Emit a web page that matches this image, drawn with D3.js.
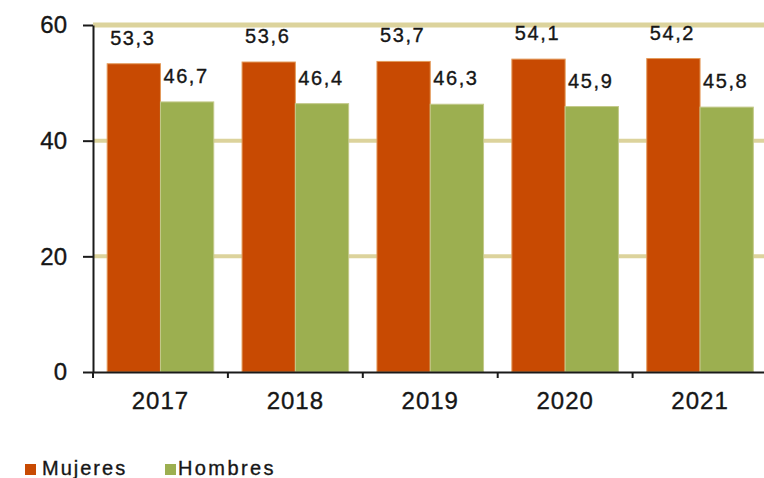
<!DOCTYPE html>
<html>
<head>
<meta charset="utf-8">
<script src="https://cdn.jsdelivr.net/npm/d3@7"></script>
<style>
  html, body { margin: 0; padding: 0; background: #fff; }
  svg { display: block; }
  text { font-family: Arial, "Liberation Sans", sans-serif; fill: #161616; stroke: #161616; stroke-width: 0.35px; }
</style>
</head>
<body>
<svg id="chart" width="764" height="478"></svg>
<script>
const years = ["2017", "2018", "2019", "2020", "2021"];
const seriesNames = ["Mujeres", "Hombres"];
const mujeres = [53.3, 53.6, 53.7, 54.1, 54.2];
const hombres = [46.7, 46.4, 46.3, 45.9, 45.8];
const yTicks = [0, 20, 40, 60];
const colors = ["#c84a02", "#9caf50"];

(function () {
const svg = d3.select("#chart");
const mLeft = 93, mRight = 767.5, mTop = 25, mBottom = 372;

const x0 = d3.scaleBand().domain(years).range([mLeft, mRight]).padding(0);
const bw = x0.bandwidth();
const x1 = d3.scaleBand().domain(seriesNames).range([bw * 0.105, bw * 0.895]).padding(0);
const y = d3.scaleLinear().domain([0, 60]).range([mBottom, mTop]);

const data = years.map((yr, i) => ({ year: yr, values: [mujeres[i], hombres[i]] }));

// gridlines
svg.append("g").selectAll("line")
  .data(yTicks.filter(t => t > 0))
  .join("line")
  .attr("x1", mLeft).attr("x2", 764)
  .attr("y1", d => y(d)).attr("y2", d => y(d))
  .attr("stroke", "#dcd39c")
  .attr("stroke-width", d => d === 60 ? 5 : 4);

// bars
const groups = svg.append("g").selectAll("g")
  .data(data).join("g")
  .attr("transform", d => `translate(${x0(d.year)},0)`);

groups.selectAll("rect")
  .data(d => d.values.map((v, j) => ({ name: seriesNames[j], v, j })))
  .join("rect")
  .attr("x", d => x1(d.name))
  .attr("y", d => y(d.v))
  .attr("width", x1.bandwidth())
  .attr("height", d => y(0) - y(d.v))
  .attr("fill", d => colors[d.j])
  .attr("stroke", d => d.j === 0 ? "#e39a5a" : "#c3c98a")
  .attr("stroke-width", 1);

// value labels
groups.selectAll("text")
  .data(d => d.values.map((v, j) => ({ name: seriesNames[j], v, j })))
  .join("text")
  .attr("x", d => x1(d.name) + x1.bandwidth() / 2 - 1)
  .attr("y", d => y(d.v) - 19)
  .attr("text-anchor", "middle")
  .style("font-size", "20px")
  .style("letter-spacing", "1.6px")
  .text(d => d.v.toFixed(1).replace(".", ","));

// y axis
const yAxis = d3.axisLeft(y).tickValues(yTicks).tickSize(10).tickPadding(16).tickSizeOuter(0);
const gy = svg.append("g").attr("transform", `translate(${mLeft},0)`).call(yAxis);
gy.select(".domain").attr("stroke", "#1a1a1a").attr("stroke-width", 2);
gy.selectAll(".tick line").attr("stroke", "#1a1a1a").attr("stroke-width", 2);
gy.selectAll(".tick text").style("font-size", "24px").attr("fill", "#161616")
  .style("font-family", "Arial, 'Liberation Sans', sans-serif");

// x axis
const xAxis = d3.axisBottom(x0).tickSize(0).tickPadding(20).tickSizeOuter(0);
const gx = svg.append("g").attr("transform", `translate(0,${mBottom})`).call(xAxis);
gx.select(".domain").attr("stroke", "#1a1a1a").attr("stroke-width", 2);
gx.selectAll(".tick text").style("font-size", "24px").style("letter-spacing", "1px")
  .attr("fill", "#161616").style("font-family", "Arial, 'Liberation Sans', sans-serif");
// category boundary ticks
gx.append("g").selectAll("line")
  .data(years)
  .join("line")
  .attr("x1", d => x0(d)).attr("x2", d => x0(d))
  .attr("y1", 0).attr("y2", 6)
  .attr("stroke", "#1a1a1a").attr("stroke-width", 2);

// legend
const legendX = [25, 165];
const lg = svg.append("g").selectAll("g")
  .data(seriesNames).join("g")
  .attr("transform", (d, i) => `translate(${legendX[i]},464)`);
lg.append("rect").attr("width", 11).attr("height", 11).attr("fill", (d, i) => colors[i]);
lg.append("text")
  .attr("x", (d, i) => i === 0 ? 17 : 13)
  .attr("y", 11)
  .style("font-size", "20px")
  .style("letter-spacing", (d, i) => i === 0 ? "2px" : "2.4px")
  .text(d => d);
})();
</script>
</body>
</html>
